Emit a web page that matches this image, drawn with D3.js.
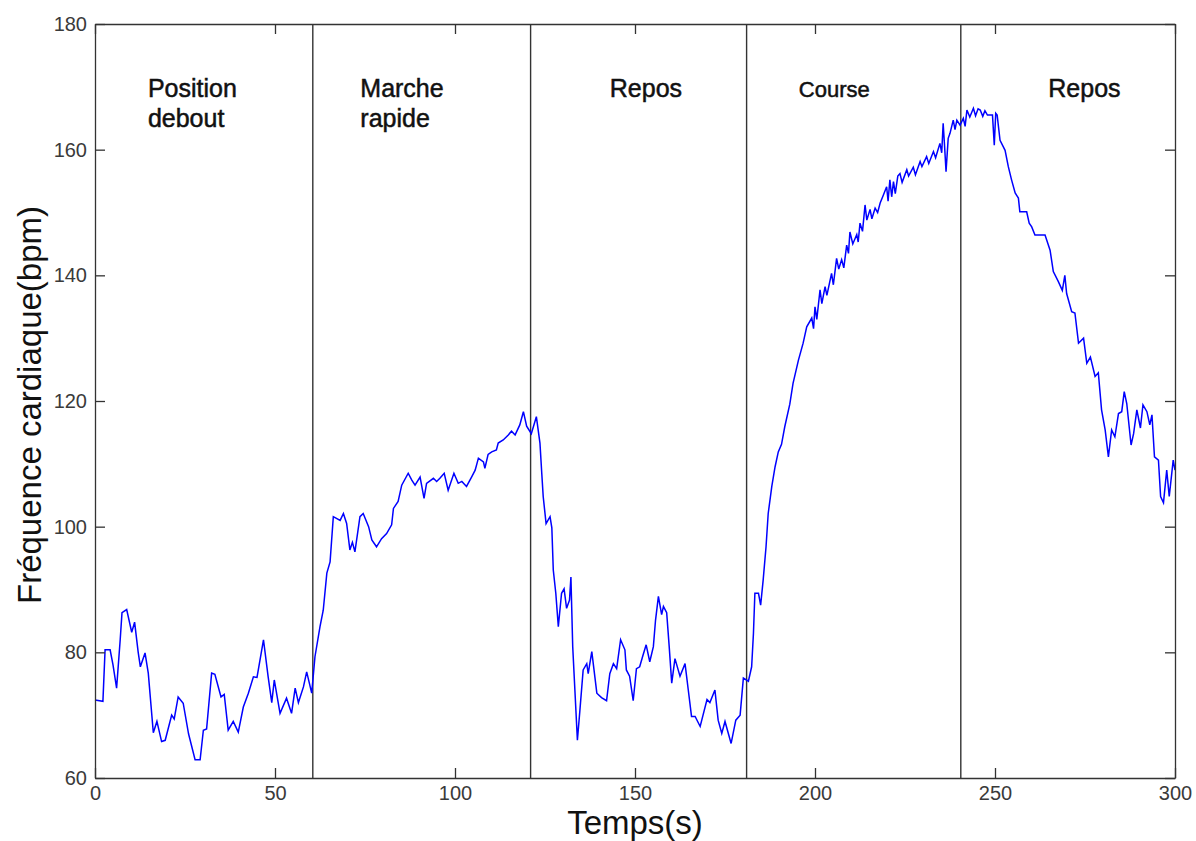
<html>
<head>
<title>Fréquence cardiaque</title>
<script src="https://d3js.org/d3.v7.min.js"></script>
<style>
body { margin: 0; background: #fff; font-family: "Liberation Sans", Arial, sans-serif; }
svg { display: block; }
.axis text { font-family: "Liberation Sans", Arial, sans-serif; font-size: 20px; fill: #3a3a3a; }
.axis path, .axis line { stroke: #333; stroke-width: 1.3; }
text.phase { font-size: 25px; fill: #111; stroke: #111; stroke-width: 0.5; }
text.title { font-size: 33px; fill: #111; }
</style>
</head>
<body>
<div id="plot"></div>

<script>

// time (s) and heart rate (bpm)
var temps = [0, 2.2, 2.8, 4.2, 5, 6, 7, 7.5, 8.8, 10.2, 11, 12, 12.6, 13.9, 14.8, 16.2, 17.2, 18.5, 19.5, 21.3, 22, 23.1, 24.5, 26, 27.8, 29.2, 30.1, 31, 32.4, 33.3, 35, 35.9, 37, 38.4, 39.8, 41.2, 42.6, 44, 45, 46.8, 48.1, 49.1, 49.8, 51.4, 53.2, 54.6, 55.6, 56.5, 57.9, 58.8, 60.2,
  61.1, 62.5, 63.4, 64.4, 65.3, 66.2, 68.1, 69, 69.9, 70.8, 71.5, 72.2, 73.6, 74.5, 76, 76.9, 78.2, 79.6, 81, 82.4, 82.9, 84.2, 85.2, 87, 88, 88.9, 90.3, 91.4, 92.1, 94, 94.9, 95.8, 97, 98.1, 99.7, 100.9, 101.9, 103.2, 104.6, 105.6, 106.5, 107.9, 108.3, 109.2, 110.2, 111.5, 112, 113.4, 114.8, 115.7, 116.7, 118, 119, 119.9, 121.2, 122.6,
  123.6, 124.1, 124.5, 125.3, 126.4, 126.9, 127.3, 128, 128.7, 129.6, 130.3, 131, 131.8, 132.2, 132.7, 133.3, 134, 134.7, 135.6, 136.6, 137, 138, 139.4, 140.7, 142.1, 143, 144, 144.9, 146, 147.2, 147.6, 148.5, 149.5, 150.4, 151.3, 152.2, 153.1, 154.1, 155.1, 155.7, 156.5, 157.4, 157.9, 158.8, 159.5, 160.2, 161.1, 162.5, 163.9, 164.8, 165.7, 166.7, 168.1, 170, 170.8, 172.2, 173.1, 174.1, 175, 176.7, 178, 179.2, 180.1,
  181.5, 182.4, 182.9, 183.3, 184.3, 184.9, 185.6, 186.4, 187, 188, 188.9, 189.8, 190.7, 191.6, 193, 193.9, 195.4, 196.7, 197.7, 199.1, 199.6, 200, 200.5, 201.4, 201.9, 202.8, 203.3, 204.6, 205.1, 206, 206.6, 207.4, 208, 208.8, 209.3, 209.7, 210.5, 211.6, 212, 212.5, 213.2, 213.9, 214.4, 215.3, 215.8, 216.7, 217.4, 218.1, 219, 219.9, 220.3, 220.8, 221.3, 221.8, 222.3, 223, 223.6, 224.2, 225.5, 226, 227.3, 227.9, 229.2, 229.7, 231, 231.6, 232.9, 233.5, 234.7, 235.2, 235.6, 236, 236.4, 237, 237.5, 238.4, 238.9, 239.4, 240.3,
  241.2, 241.7, 242.2, 243, 244, 244.6, 245.3, 245.9, 246.6, 247.2, 247.9, 249.3, 249.8, 250.2, 250.6, 251.4, 252.8, 253.7, 254.6, 255.6, 256.5, 256.9, 258.8, 259.5, 260.2, 261.1, 263.9, 265.3, 266.2, 267.6, 268.7, 269.4, 269.9, 271.3, 272.2, 273.2, 274.6, 275.5, 276.5, 277.8, 278.7, 279.6, 280.6, 281.5, 282.4, 283.3, 284.3, 285.2, 285.9, 286.6, 287.8, 288.5, 289.4, 290.4, 291.1, 292.2, 293, 293.6, 294.3, 295.4, 296, 296.8, 297.7, 298.4, 299.5, 300];

var frequence = [72.4, 72.2, 80.4, 80.4, 78, 74.3, 82, 86.3, 86.8, 83.2, 84.8, 80, 77.7, 79.9, 76.7, 67.2, 69.0, 65.8, 66, 70.0, 69.4, 72.9, 71.9, 67, 62.9, 62.9, 67.6, 67.8, 76.7, 76.5, 72.9, 73.3, 67.6, 69.0, 67.3, 71.3, 73.5, 76.1, 76.0, 82.0, 76.1, 72.0, 75.6, 70.3, 72.7, 70.3, 74.3, 72.0, 74.5, 76.9, 73.5,
  79.3, 84.1, 86.7, 92.6, 94.4, 101.6, 101.0, 102.1, 100.5, 96.3, 97.5, 96.0, 101.6, 102.1, 100.0, 97.9, 96.8, 98.1, 98.9, 100.3, 102.9, 104.0, 106.6, 108.5, 107.4, 106.6, 107.9, 104.5, 106.9, 107.7, 107.2, 107.7, 108.5, 105.8, 108.5, 106.9, 107.2, 106.4, 107.9, 109.0, 110.9, 110.3, 109.3, 111.5, 111.9, 112.2, 113.3, 113.8, 114.6, 115.2, 114.6, 116.2, 118.3, 116.0, 114.8, 117.5,
  113.3, 108.5, 104.8, 100.5, 101.6, 99.8, 93.1, 89.4, 84.1, 89.4, 90.1, 87.0, 88.3, 92.0, 80.9, 74.0, 66.0, 70.8, 77.2, 78.2, 76.6, 80.1, 73.5, 72.8, 72.3, 76.6, 78.2, 77.4, 82.0, 80.4, 77.2, 76.2, 72.3, 77.4, 77.7, 79.5, 81.2, 78.5, 80.9, 85.1, 88.9, 86.0, 87.3, 86.3, 80.9, 75.1, 79.0, 76.2, 78.2, 74.0, 69.8, 69.8, 68.2, 72.5, 72.0, 74.0, 69.2, 67.1, 69.0, 65.5, 69.2, 70.0, 75.9,
  75.4, 77.7, 83.0, 89.4, 89.4, 87.5, 91.5, 96.8, 102.1, 106.4, 109.5, 111.9, 113.1, 115.9, 119.5, 122.8, 126.5, 129.2, 131.8, 133.2, 131.5, 135.0, 133, 137.7, 135.5, 138.2, 136.8, 140.3, 138.5, 142.7, 141.0, 142.5, 141.2, 144.8, 143.5, 146.9, 145, 146.5, 145.3, 148.3, 147, 151.2, 148.8, 150.5, 149.0, 150.7, 150, 151.5, 152.8, 154.1, 151.8, 155.2, 152.5, 154.9, 153, 155.8, 156.2, 154.8, 156.8, 155.8, 157.2, 156, 158.1, 157.3, 158.9, 157.8, 159.7, 158.7, 161.0, 159.5, 164.2, 160.5, 156.5, 161.8, 162.6, 164.7, 163.2, 164.7, 163.9,
  165.0, 163.7, 166.3, 165.2, 166.6, 165.4, 166.5, 166.3, 165.3, 166.2, 165.5, 165.5, 160.7, 165.8, 165.5, 161.5, 159.9, 157.3, 155.2, 153.1, 152.3, 150.1, 150.1, 148.3, 147.7, 146.4, 146.4, 144.0, 140.6, 139.0, 137.6, 140.0, 137.1, 134.2, 134.0, 129.2, 130.0, 126.0, 127.0, 123.9, 124.5, 118.6, 115.4, 111.1, 115.4, 114.3, 118.0, 118.3, 121.5, 119.6, 113.0, 114.8, 118.6, 115.7, 119.4, 118.3, 116.2, 117.8, 111.1, 110.6, 104.8, 103.8, 109.0, 104.8, 110.6, 109.0];

// boundaries between phases (s)
var separations = [60.5, 121, 181, 240.5];

// phase labels and the time where each one starts
var phases = [["Position", "debout"], ["Marche", "rapide"], ["Repos"], ["Course"], ["Repos"]];
var phaseStart = [14.7, 73.7, 143, 195.5, 264.8];

var xTicks = [0, 50, 100, 150, 200, 250, 300];
var yTicks = [60, 80, 100, 120, 140, 160, 180];

var margin = { top: 24, right: 21, bottom: 63, left: 95 };
var width = 1196 - margin.left - margin.right;
var height = 841 - margin.top - margin.bottom;

var svg = d3.select("#plot").append("svg")
  .attr("width", 1196).attr("height", 841);
var g = svg.append("g").attr("transform", "translate(" + margin.left + "," + margin.top + ")");

var xScale = d3.scaleLinear().domain([0, 300]).range([0, width]);
var yScale = d3.scaleLinear().domain([60, 180]).range([height, 0]);

// separators
g.selectAll("line.sep").data(separations).enter()
  .append("line")
  .attr("class", "sep")
  .attr("x1", d => xScale(d)).attr("x2", d => xScale(d))
  .attr("y1", 0).attr("y2", height)
  .style("stroke", "#333").style("stroke-width", 1.4);

// heart rate curve
var points = temps.map((t, i) => ({ x: t, y: frequence[i] }));
var line = d3.line().x(d => xScale(d.x)).y(d => yScale(d.y));

g.append("path")
  .datum(points)
  .attr("d", line)
  .style("fill", "none")
  .style("stroke", "#0000ff")
  .style("stroke-width", 1.5);

// box with inward ticks
g.append("g").attr("class", "axis")
  .attr("transform", "translate(0," + height + ")")
  .call(d3.axisBottom(xScale).tickValues(xTicks).tickSizeInner(-10).tickSizeOuter(0).tickPadding(8));
g.append("g").attr("class", "axis")
  .call(d3.axisLeft(yScale).tickValues(yTicks).tickSizeInner(-10).tickSizeOuter(0).tickPadding(8));
g.append("g").attr("class", "axis")
  .call(d3.axisTop(xScale).tickValues(xTicks).tickSizeInner(-10).tickSizeOuter(0).tickFormat(""));
g.append("g").attr("class", "axis")
  .attr("transform", "translate(" + width + ",0)")
  .call(d3.axisRight(yScale).tickValues(yTicks).tickSizeInner(-10).tickSizeOuter(0).tickFormat(""));

// phase labels
phases.forEach(function (lines, i) {
  var t = g.append("text")
    .attr("class", "phase")
    .attr("x", xScale(phaseStart[i]))
    .attr("y", 73)
    .style("font-size", lines[0] == "Course" ? "22px" : null);
  lines.forEach(function (s, j) {
    t.append("tspan").attr("x", xScale(phaseStart[i])).attr("dy", j == 0 ? 0 : 30).text(s);
  });
});

// axis titles
svg.append("text")
  .attr("class", "title")
  .attr("x", margin.left + width / 2)
  .attr("y", 834)
  .attr("text-anchor", "middle")
  .text("Temps(s)");

svg.append("text")
  .attr("class", "title")
  .attr("transform", "translate(41," + (margin.top + height / 2 + 4) + ") rotate(-90)")
  .attr("text-anchor", "middle")
  .text("Fréquence cardiaque(bpm)");

</script>
</body>
</html>
